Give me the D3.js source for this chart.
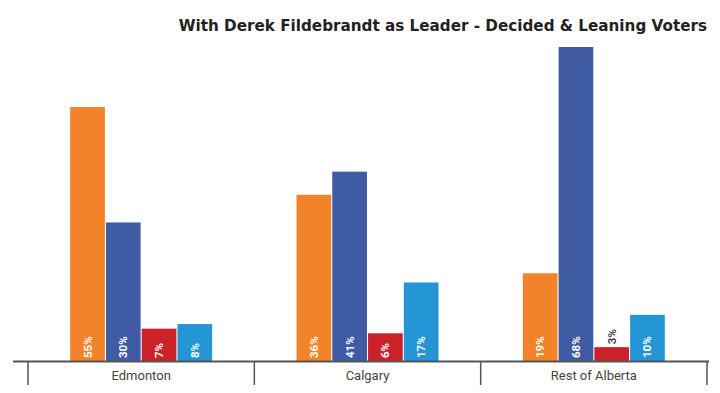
<!DOCTYPE html>
<html lang="en">
<head>
<meta charset="UTF-8">
<title>Fildebrandt as Leader</title>
<script src="https://d3js.org/d3.v7.min.js"></script>
<style>
    body {margin: 0; background: #fff;}
</style>
</head>
<body>
<div id="chart"></div>
<script>
// chart data
var regions = ["Edmonton", "Calgary", "Rest of Alberta"];
var parties = ["NDP", "UCP", "Liberal", "Alberta Party"];
var ndp = [55, 36, 19];
var ucp = [30, 41, 68];
var liberal = [7, 6, 3];
var albertaParty = [8, 17, 10];
var titleText = "With Derek Fildebrandt as Leader - Decided & Leaning Voters";

var colors = ["#F2832A", "#3F5BA3", "#CB2229", "#2596D5"];
var width = 720, height = 393;

// build rows for drawing
var seriesValues = [ndp, ucp, liberal, albertaParty];
var rows = [];
regions.forEach(function(r, i){
    parties.forEach(function(p, j){
        rows.push({region: r, party: p, value: seriesValues[j][i], idx: j});
    });
});

var svg = d3.select("#chart").append("svg")
    .attr("width", width)
    .attr("height", height);

// scales
var xScale = d3.scaleBand()
    .domain(regions)
    .range([28, 707]);

var xInner = d3.scaleBand()
    .domain(parties)
    .range([0, 142])
    .paddingInner(0.03);

var yScale = d3.scaleLinear()
    .domain([0, 68])
    .range([361, 47]);

var groupOffset = (xScale.bandwidth() - 142) / 2;

// bars
svg.selectAll("rect.bar")
    .data(rows)
    .enter()
    .append("rect")
        .attr("class", "bar")
        .attr("x", function(d){ return xScale(d.region) + groupOffset + xInner(d.party); })
        .attr("y", function(d){ return yScale(d.value); })
        .attr("width", xInner.bandwidth())
        .attr("height", function(d){ return yScale(0) - yScale(d.value); })
        .attr("fill", function(d){ return colors[d.idx]; });

// value labels (rotated)
svg.selectAll("text.val")
    .data(rows)
    .enter()
    .append("text")
        .attr("class", "val")
        .attr("transform", function(d){
            var cx = xScale(d.region) + groupOffset + xInner(d.party) + xInner.bandwidth() / 2 + 4;
            var small = (yScale(0) - yScale(d.value)) < 26;
            var y = small ? yScale(d.value) - 3 : 358;
            return "translate(" + cx + "," + y + ") rotate(-90)";
        })
        .attr("text-anchor", "start")
        .style("font-family", "Roboto, Arial, sans-serif")
        .style("font-size", "11.5px")
        .style("font-weight", "bold")
        .attr("fill", function(d){
            return (yScale(0) - yScale(d.value)) < 26 ? "#444" : "#fff";
        })
        .text(function(d){ return d.value + "%"; });

// x axis
var xAxis = d3.axisBottom(xScale).tickSize(0).tickPadding(10);
var gx = svg.append("g")
    .attr("transform", "translate(0,361)")
    .call(xAxis);
gx.select(".domain").remove();
gx.selectAll("text")
    .style("font-size", "13px")
    .style("font-family", "Roboto, Arial, sans-serif")
    .attr("fill", "#444");

svg.append("line")
    .attr("x1", 13).attr("x2", 709)
    .attr("y1", 361.5).attr("y2", 361.5)
    .attr("stroke", "#555")
    .attr("stroke-width", 2);

// separators between regions
var bounds = regions.map(function(r){ return xScale(r); });
bounds.push(xScale.range()[1]);
svg.selectAll("line.sep")
    .data(bounds)
    .enter()
    .append("line")
        .attr("class", "sep")
        .attr("x1", function(d){ return d; })
        .attr("x2", function(d){ return d; })
        .attr("y1", 361)
        .attr("y2", 385)
        .attr("stroke", "#555")
        .attr("stroke-width", 1.5);

// title
svg.append("text")
    .attr("x", 707)
    .attr("y", 31)
    .attr("text-anchor", "end")
    .style("font-family", "'DejaVu Sans', sans-serif")
    .style("font-weight", "bold")
    .style("font-size", "15.2px")
    .attr("fill", "#222")
    .text(titleText);
</script>
</body>
</html>
